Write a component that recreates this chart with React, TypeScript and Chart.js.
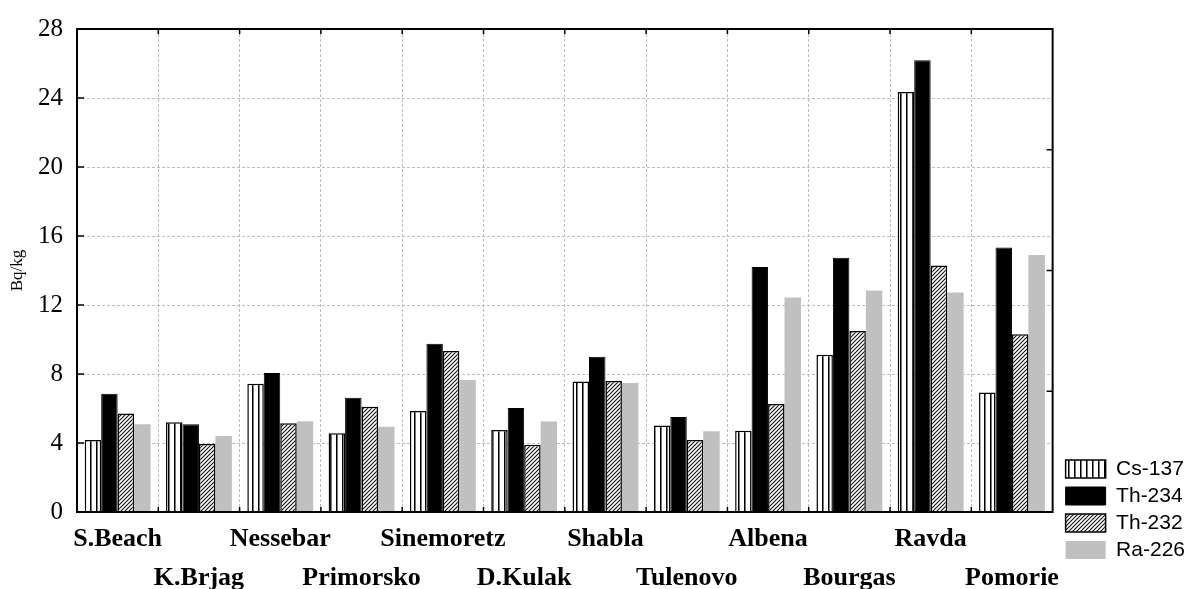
import React, { useEffect, useRef } from 'react';
import { Chart, registerables } from 'chart.js';

Chart.register(...registerables);

const categories = ['S.Beach', 'K.Brjag', 'Nessebar', 'Primorsko', 'Sinemoretz', 'D.Kulak', 'Shabla', 'Tulenovo', 'Albena', 'Bourgas', 'Ravda', 'Pomorie'];
const cs137 = [4.17, 5.2, 7.43, 4.56, 5.86, 4.75, 7.57, 5.02, 4.71, 9.11, 24.35, 6.93];
const th234 = [6.86, 5.09, 8.06, 6.62, 9.76, 6.03, 9.0, 5.51, 14.2, 14.74, 26.19, 15.33];
const th232 = [5.71, 3.94, 5.14, 6.1, 9.34, 3.9, 7.59, 4.18, 6.26, 10.5, 14.29, 10.3];
const ra226 = [5.09, 4.4, 5.26, 4.94, 7.65, 5.25, 7.48, 4.68, 12.44, 12.84, 12.73, 14.9];
const seriesNames = ['Cs-137', 'Th-234', 'Th-232', 'Ra-226'];
const yMin = 0;
const yMax = 28;
const yStep = 4;
const rightTickValues = [7, 14, 21];
const yTitle = 'Bq/kg';

const SERIF = '"Liberation Serif", "Times New Roman", serif';
const SANS = '"Liberation Sans", Arial, sans-serif';

function stripePattern(): CanvasPattern | string {
  const c = document.createElement('canvas');
  c.width = 6;
  c.height = 6;
  const g = c.getContext('2d');
  if (!g) return '#fff';
  g.fillStyle = '#fff';
  g.fillRect(0, 0, 6, 6);
  g.fillStyle = '#000';
  g.fillRect(0, 0, 1, 6);
  g.fillStyle = '#777';
  g.fillRect(1, 0, 1, 6);
  return g.createPattern(c, 'repeat') || '#fff';
}

function hatchPattern(): CanvasPattern | string {
  const s = 4;
  const c = document.createElement('canvas');
  c.width = s;
  c.height = s;
  const g = c.getContext('2d');
  if (!g) return '#888';
  g.fillStyle = '#fff';
  g.fillRect(0, 0, s, s);
  g.strokeStyle = '#111';
  g.lineWidth = 1.1;
  g.beginPath();
  g.moveTo(0, s);
  g.lineTo(s, 0);
  g.moveTo(-1, 1);
  g.lineTo(1, -1);
  g.moveTo(s - 1, s + 1);
  g.lineTo(s + 1, s - 1);
  g.stroke();
  return g.createPattern(c, 'repeat') || '#888';
}

// lift the legend column so that it ends a little above the bottom edge
const legendLift = 22.5;
const legendShiftPlugin = {
  id: 'legendShift',
  afterLayout(chart: any) {
    const lg = chart.legend;
    if (lg) {
      lg.top -= legendLift;
      lg.bottom -= legendLift;
    }
  },
};

const framePlugin = {
  id: 'frameTicks',
  afterDraw(chart: any) {
    const { ctx, chartArea, scales } = chart;
    const { left, top, right, bottom } = chartArea;
    const line = (x1: number, y1: number, x2: number, y2: number) => {
      ctx.beginPath();
      ctx.moveTo(x1, y1);
      ctx.lineTo(x2, y2);
      ctx.stroke();
    };
    ctx.save();
    ctx.strokeStyle = '#000';
    ctx.lineWidth = 1.5;
    const ys = scales.y;
    ys.ticks.forEach((t: any) => {
      const py = ys.getPixelForValue(t.value);
      line(left, py, left + 7, py);
    });
    rightTickValues.forEach((v) => {
      const py = ys.getPixelForValue(v);
      line(right, py, right - 6, py);
    });
    const xs = scales.x;
    for (let i = 1; i < categories.length; i++) {
      const px = (xs.getPixelForValue(i - 1) + xs.getPixelForValue(i)) / 2;
      line(px, bottom, px, bottom - 5);
      line(px, top, px, top + 5);
    }
    ctx.lineWidth = 2;
    ctx.strokeRect(left, top, right - left, bottom - top);
    ctx.restore();
  },
};

export default function App() {
  const ref = useRef<HTMLCanvasElement | null>(null);

  useEffect(() => {
    if (!ref.current) return;
    const stripes = stripePattern();
    const hatch = hatchPattern();
    const chart = new Chart(ref.current, {
      type: 'bar',
      data: {
        labels: categories.map((c, i) => (i % 2 === 1 ? ['', c] : [c])),
        datasets: [
          { label: seriesNames[0], data: cs137, backgroundColor: stripes as any, borderColor: '#000', borderWidth: 1.5 },
          { label: seriesNames[1], data: th234, backgroundColor: '#000', borderColor: '#000', borderWidth: 1 },
          { label: seriesNames[2], data: th232, backgroundColor: hatch as any, borderColor: '#000', borderWidth: 1.5 },
          { label: seriesNames[3], data: ra226, backgroundColor: '#c0c0c0', borderColor: '#c0c0c0', borderWidth: 0 },
        ],
      },
      options: {
        responsive: false,
        animation: false,
        events: [],
        datasets: { bar: { categoryPercentage: 0.81, barPercentage: 1 } },
        layout: { padding: { left: 0, right: 0, top: 23, bottom: 0 } },
        plugins: {
          legend: {
            position: 'right',
            align: 'end',
            labels: {
              boxWidth: 40,
              boxHeight: 18,
              padding: 6,
              color: '#000',
              font: { family: SANS, size: 21 },
            },
          },
          tooltip: { enabled: false },
        },
        scales: {
          x: {
            grid: { color: '#bdbdbd', lineWidth: 1, drawTicks: false, offset: true },
            border: { display: false, dash: [3, 2] },
            ticks: {
              color: '#000',
              autoSkip: false,
              maxRotation: 0,
              padding: 8,
              font: { family: SERIF, size: 26, weight: 'bold', lineHeight: 1.5 },
            },
            afterFit: (s: any) => {
              s.height = 77;
            },
          },
          y: {
            min: yMin,
            max: yMax,
            ticks: { stepSize: yStep, color: '#000', padding: 14, font: { family: SERIF, size: 25 } },
            grid: { color: '#bdbdbd', lineWidth: 1, drawTicks: false },
            border: { display: false, dash: [3, 2] },
            title: { display: true, text: yTitle, color: '#000', font: { family: SERIF, size: 17 }, padding: { top: 7, bottom: 0 } },
            afterFit: (s: any) => {
              s.width = 77;
            },
          },
          y2: {
            position: 'right',
            min: yMin,
            max: yMax,
            ticks: { display: false },
            grid: { display: false, drawTicks: false },
            border: { display: false },
            afterFit: (s: any) => {
              s.width = 7;
            },
          },
        },
      },
      plugins: [legendShiftPlugin, framePlugin],
    } as any);
    return () => chart.destroy();
  }, []);

  return (
    <div style={{ position: 'fixed', left: 0, top: 0, width: 1195, height: 589, background: '#fff' }}>
      <canvas ref={ref} width={1195} height={589} style={{ display: 'block' }} />
    </div>
  );
}
